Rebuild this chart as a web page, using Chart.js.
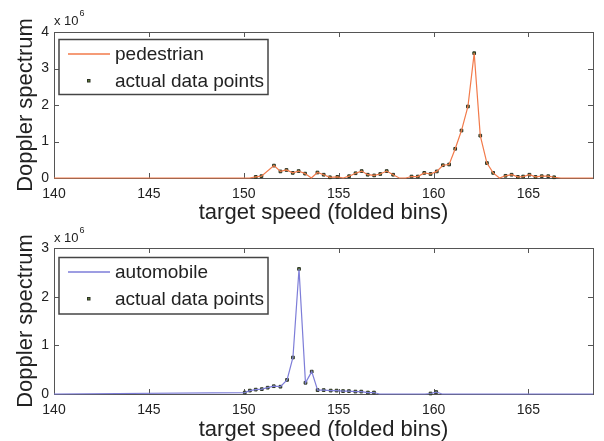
<!DOCTYPE html>
<html lang="en">
<head>
  <meta charset="UTF-8">
  <title>Doppler spectrum</title>
  <style>
    body {
      margin: 0;
      background-color: white;
    }
    .wrap {
      position: relative;
      width: 604px;
      height: 441px;
      overflow: hidden;
    }
    canvas {
      position: absolute;
      left: 0;
    }
    #topChart { top: 0; }
    #bottomChart { top: 220px; }
  </style>
  <script src="https://cdn.jsdelivr.net/npm/chart.js"></script>
</head>
<body>
  <div class="wrap">
    <canvas id="topChart" width="604" height="224"></canvas>
    <canvas id="bottomChart" width="604" height="221"></canvas>
  </div>

  <script>
    // tick labels
    const xTicks = [140, 145, 150, 155, 160, 165];
    const topYTicks = [0, 1, 2, 3, 4];
    const bottomYTicks = [0, 1, 2, 3];

    // pedestrian (values in units of 10^6)
    const pedSpeed = [140, 150.3, 150.63, 150.93, 151.59, 151.93, 152.25, 152.58, 152.89, 153.23,
      153.56, 153.88, 154.21, 154.54, 154.93, 155.24, 155.55, 155.89, 156.21, 156.53,
      156.87, 157.19, 157.53, 157.87, 158.19, 158.53, 158.84, 159.17, 159.51, 159.84,
      160.17, 160.49, 160.82, 161.14, 161.47, 161.81, 162.14, 162.46, 162.81, 163.14,
      163.47, 163.79, 164.11, 164.44, 164.72, 165.05, 165.37, 165.7, 166.04, 166.35,
      166.7, 168.4];
    const pedValues = [0, 0, 0.03, 0.05, 0.34, 0.18, 0.22, 0.14, 0.19, 0.12,
      0, 0.15, 0.09, 0.02, 0.03, 0, 0.05, 0.13, 0.19, 0.09,
      0.07, 0.11, 0.19, 0.09, 0, 0, 0.04, 0.04, 0.14, 0.11,
      0.18, 0.35, 0.37, 0.8, 1.3, 1.96, 3.42, 1.16, 0.41, 0.14,
      0, 0.06, 0.09, 0.03, 0.04, 0.09, 0.03, 0.05, 0.05, 0.02,
      0, 0];

    // automobile (values in units of 10^6)
    const autoSpeed = [140, 150.05, 150.32, 150.63, 150.95, 151.26, 151.58, 151.93, 152.28, 152.59,
      152.91, 153.25, 153.58, 153.89, 154.21, 154.58, 154.89, 155.23, 155.54, 155.88,
      156.19, 156.54, 156.86, 157.15, 159.55, 159.84, 160.14, 160.45, 168.4];
    const autoValues = [0, 0.03, 0.07, 0.09, 0.1, 0.13, 0.16, 0.15, 0.29, 0.75,
      2.57, 0.23, 0.46, 0.08, 0.08, 0.07, 0.07, 0.06, 0.06, 0.05,
      0.05, 0.03, 0.03, 0, 0, 0.01, 0.04, 0, 0];

    const FONT = "'Liberation Sans', Arial, Helvetica, sans-serif";
    const TEXT = '#222';

    // box around the axes with inward ticks, like matlab
    const framePlugin = {
      id: 'frame',
      beforeDatasetsDraw(chart) {
        const { ctx, chartArea: a, scales: { x, y } } = chart;
        ctx.save();
        ctx.strokeStyle = '#555';
        ctx.lineWidth = 1;
        ctx.strokeRect(a.left + 0.5, a.top + 0.5, a.width, a.height);
        ctx.beginPath();
        x.ticks.forEach(t => {
          const px = Math.round(x.getPixelForValue(t.value)) + 0.5;
          ctx.moveTo(px, a.bottom); ctx.lineTo(px, a.bottom - 5);
          ctx.moveTo(px, a.top); ctx.lineTo(px, a.top + 5);
        });
        y.ticks.forEach(t => {
          const py = Math.round(y.getPixelForValue(t.value)) + 0.5;
          ctx.moveTo(a.left, py); ctx.lineTo(a.left + 5, py);
          ctx.moveTo(a.right, py); ctx.lineTo(a.right - 5, py);
        });
        ctx.stroke();
        ctx.restore();
      }
    };

    // "x 10^6" above the y axis
    const exponentPlugin = {
      id: 'exponent',
      afterDraw(chart, args, opts) {
        const { ctx, chartArea: a } = chart;
        ctx.save();
        ctx.fillStyle = TEXT;
        ctx.textBaseline = 'middle';
        ctx.font = '13px ' + FONT;
        ctx.fillText('x 10', a.left, opts.y);
        const w = ctx.measureText('x 10').width;
        ctx.font = '9px ' + FONT;
        ctx.fillText('6', a.left + w + 1, opts.y - 7);
        ctx.restore();
      }
    };

    // legend box in the upper left corner
    const boxLegendPlugin = {
      id: 'boxLegend',
      afterDraw(chart, args, opts) {
        const { ctx } = chart;
        const line = chart.data.datasets[0];
        const pts = chart.data.datasets[1];
        ctx.save();
        ctx.fillStyle = 'white';
        ctx.fillRect(opts.left, opts.top, opts.width, opts.height);
        ctx.strokeStyle = '#444';
        ctx.lineWidth = 1.5;
        ctx.strokeRect(opts.left, opts.top, opts.width, opts.height);

        const y1 = Math.round(opts.top + 14), y2 = Math.round(opts.top + 41);
        ctx.strokeStyle = line.borderColor;
        ctx.lineWidth = 1.5;
        ctx.beginPath();
        ctx.moveTo(opts.left + 9, y1);
        ctx.lineTo(opts.left + 51, y1);
        ctx.stroke();

        ctx.fillStyle = pts.backgroundColor;
        ctx.strokeStyle = pts.borderColor;
        ctx.lineWidth = 1;
        ctx.fillRect(opts.left + 28.5, y2 - 1.5, 2.5, 2.5);
        ctx.strokeRect(opts.left + 28.5, y2 - 1.5, 2.5, 2.5);

        ctx.fillStyle = TEXT;
        ctx.font = '19px ' + FONT;
        ctx.textBaseline = 'middle';
        ctx.fillText(line.label, opts.left + 56, y1 + 1);
        ctx.fillText(pts.label, opts.left + 56, y2 + 1);
        ctx.restore();
      }
    };

    function makeChart(id, cfg) {
      const canvas = document.getElementById(id);
      const linePts = cfg.speed.map((s, i) => ({ x: s, y: cfg.values[i] }));
      const dataPts = linePts.filter(p => p.y > 0);
      return new Chart(canvas, {
        type: 'scatter',
        data: {
          datasets: [{
            label: cfg.label,
            data: linePts,
            showLine: true,
            borderColor: cfg.color,
            borderWidth: 1.2,
            tension: 0,
            pointRadius: 0,
            clip: 4
          }, {
            label: 'actual data points',
            data: dataPts,
            showLine: false,
            pointStyle: 'rect',
            pointRadius: 1.9,
            backgroundColor: '#5f7d35',
            borderColor: '#2c3224',
            borderWidth: 1,
            clip: 4
          }]
        },
        options: {
          responsive: false,
          animation: false,
          layout: { padding: { top: cfg.plotTop, right: 11, left: 0, bottom: 0 } },
          scales: {
            x: {
              type: 'linear',
              min: 140,
              max: 168.4,
              afterFit: s => { s.height = canvas.height - cfg.plotBottom; },
              afterBuildTicks: s => { s.ticks = xTicks.map(v => ({ value: v })); },
              grid: { display: false, drawTicks: false },
              border: { display: false },
              ticks: { padding: 8, color: TEXT, font: { family: FONT, size: 14 }, maxRotation: 0 },
              title: {
                display: true,
                text: 'target speed (folded bins)',
                color: TEXT,
                font: { family: FONT, size: 22, lineHeight: 1 },
                padding: 0
              }
            },
            y: {
              min: 0,
              max: cfg.yTicks[cfg.yTicks.length - 1],
              afterFit: s => { s.width = 54; },
              afterBuildTicks: s => { s.ticks = cfg.yTicks.map(v => ({ value: v })); },
              grid: { display: false, drawTicks: false },
              border: { display: false },
              ticks: { padding: 5, color: TEXT, font: { family: FONT, size: 14 } },
              title: {
                display: true,
                text: 'Doppler spectrum',
                color: TEXT,
                font: { family: FONT, size: 22, lineHeight: 1 },
                padding: { top: 15, bottom: 0 }
              }
            }
          },
          plugins: {
            legend: { display: false },
            tooltip: { enabled: false },
            exponent: { y: cfg.expY },
            boxLegend: cfg.legendBox
          }
        },
        plugins: [framePlugin, exponentPlugin, boxLegendPlugin]
      });
    }

    makeChart('topChart', {
      speed: pedSpeed,
      values: pedValues,
      label: 'pedestrian',
      color: '#f27a4a',
      yTicks: topYTicks,
      plotTop: 32,
      plotBottom: 178,
      expY: 21,
      legendBox: { left: 59, top: 39.5, width: 209, height: 55 }
    });

    makeChart('bottomChart', {
      speed: autoSpeed,
      values: autoValues,
      label: 'automobile',
      color: '#7d7dd8',
      yTicks: bottomYTicks,
      plotTop: 28,
      plotBottom: 174,
      expY: 18,
      legendBox: { left: 59, top: 37.5, width: 209, height: 56.5 }
    });
  </script>
</body>
</html>
